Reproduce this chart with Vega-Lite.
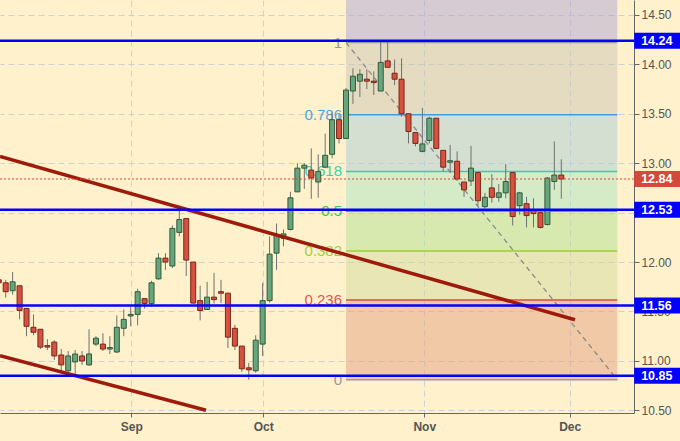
{
  "$schema": "https://vega.github.io/schema/vega-lite/v6.json",
  "width": 634,
  "height": 413,
  "autosize": {"type": "none"},
  "padding": {"left": 0, "top": 0, "right": 46, "bottom": 28},
  "background": "#fef1cc",
  "config": {"view": {"stroke": null}, "font": "Liberation Sans"},
  "resolve": {"scale": {"color": "independent", "fill": "independent", "stroke": "independent"}},
  "datasets": {
    "candles": [
      {"i": 0, "o": 11.82, "h": 11.83, "l": 11.78, "c": 11.79},
      {"i": 1, "o": 11.79, "h": 11.82, "l": 11.64, "c": 11.70},
      {"i": 2, "o": 11.71, "h": 11.90, "l": 11.67, "c": 11.80},
      {"i": 3, "o": 11.76, "h": 11.76, "l": 11.42, "c": 11.51},
      {"i": 4, "o": 11.53, "h": 11.53, "l": 11.25, "c": 11.35},
      {"i": 5, "o": 11.34, "h": 11.47, "l": 11.26, "c": 11.29},
      {"i": 6, "o": 11.32, "h": 11.32, "l": 11.12, "c": 11.14},
      {"i": 7, "o": 11.155, "h": 11.22, "l": 11.11, "c": 11.14},
      {"i": 8, "o": 11.19, "h": 11.21, "l": 11.01, "c": 11.05},
      {"i": 9, "o": 11.06, "h": 11.12, "l": 10.90, "c": 10.96},
      {"i": 10, "o": 10.90, "h": 11.10, "l": 10.88, "c": 11.05},
      {"i": 11, "o": 10.99, "h": 11.11, "l": 10.86, "c": 11.07},
      {"i": 12, "o": 11.05, "h": 11.10, "l": 10.96, "c": 11.00},
      {"i": 13, "o": 10.96, "h": 11.32, "l": 10.95, "c": 11.07},
      {"i": 14, "o": 11.17, "h": 11.25, "l": 11.15, "c": 11.23},
      {"i": 15, "o": 11.17, "h": 11.28, "l": 11.10, "c": 11.12},
      {"i": 16, "o": 11.12, "h": 11.25, "l": 11.07, "c": 11.135},
      {"i": 17, "o": 11.09, "h": 11.46, "l": 11.08, "c": 11.34},
      {"i": 18, "o": 11.33, "h": 11.52, "l": 11.25, "c": 11.42},
      {"i": 19, "o": 11.455, "h": 11.55, "l": 11.35, "c": 11.47},
      {"i": 20, "o": 11.47, "h": 11.73, "l": 11.36, "c": 11.70},
      {"i": 21, "o": 11.63, "h": 11.63, "l": 11.53, "c": 11.58},
      {"i": 22, "o": 11.58, "h": 11.81, "l": 11.55, "c": 11.79},
      {"i": 23, "o": 11.83, "h": 12.09, "l": 11.82, "c": 12.04},
      {"i": 24, "o": 12.04, "h": 12.09, "l": 11.92, "c": 12.00},
      {"i": 25, "o": 11.96, "h": 12.37, "l": 11.94, "c": 12.34},
      {"i": 26, "o": 12.30, "h": 12.54, "l": 12.26, "c": 12.43},
      {"i": 27, "o": 12.44, "h": 12.44, "l": 11.86, "c": 12.02},
      {"i": 28, "o": 12.00, "h": 12.00, "l": 11.58, "c": 11.585},
      {"i": 29, "o": 11.61, "h": 11.76, "l": 11.41, "c": 11.51},
      {"i": 30, "o": 11.52, "h": 11.80, "l": 11.52, "c": 11.645},
      {"i": 31, "o": 11.645, "h": 11.89, "l": 11.58, "c": 11.62},
      {"i": 32, "o": 11.70, "h": 11.82, "l": 11.585, "c": 11.685},
      {"i": 33, "o": 11.685, "h": 11.685, "l": 11.13, "c": 11.24},
      {"i": 34, "o": 11.33, "h": 11.365, "l": 11.11, "c": 11.15},
      {"i": 35, "o": 11.15, "h": 11.15, "l": 10.89, "c": 10.92},
      {"i": 36, "o": 10.93, "h": 10.98, "l": 10.81, "c": 10.91},
      {"i": 37, "o": 10.90, "h": 11.26, "l": 10.88, "c": 11.21},
      {"i": 38, "o": 11.17, "h": 11.79, "l": 11.05, "c": 11.61},
      {"i": 39, "o": 11.61, "h": 12.26, "l": 11.59, "c": 12.08},
      {"i": 40, "o": 12.09, "h": 12.39, "l": 11.92, "c": 12.275},
      {"i": 41, "o": 12.24, "h": 12.33, "l": 12.16, "c": 12.285},
      {"i": 42, "o": 12.33, "h": 12.71, "l": 12.32, "c": 12.65},
      {"i": 43, "o": 12.71, "h": 13.00, "l": 12.71, "c": 12.95},
      {"i": 44, "o": 12.95, "h": 13.00, "l": 12.74, "c": 12.98},
      {"i": 45, "o": 12.93, "h": 13.15, "l": 12.64, "c": 12.85},
      {"i": 46, "o": 12.81, "h": 13.09, "l": 12.65, "c": 12.915},
      {"i": 47, "o": 12.96, "h": 13.30, "l": 12.95, "c": 13.08},
      {"i": 48, "o": 13.09, "h": 13.51, "l": 13.05, "c": 13.44},
      {"i": 49, "o": 13.44, "h": 13.49, "l": 13.20, "c": 13.25},
      {"i": 50, "o": 13.25, "h": 13.76, "l": 13.25, "c": 13.74},
      {"i": 51, "o": 13.73, "h": 13.96, "l": 13.60, "c": 13.88},
      {"i": 52, "o": 13.83, "h": 13.95, "l": 13.67, "c": 13.90},
      {"i": 53, "o": 13.85, "h": 13.95, "l": 13.75, "c": 13.83},
      {"i": 54, "o": 13.83, "h": 13.93, "l": 13.69, "c": 13.815},
      {"i": 55, "o": 13.73, "h": 14.23, "l": 13.73, "c": 14.02},
      {"i": 56, "o": 14.035, "h": 14.23, "l": 13.97, "c": 13.97},
      {"i": 57, "o": 13.91, "h": 14.05, "l": 13.79, "c": 13.85},
      {"i": 58, "o": 13.85, "h": 14.06, "l": 13.47, "c": 13.50},
      {"i": 59, "o": 13.50, "h": 13.50, "l": 13.20, "c": 13.32},
      {"i": 60, "o": 13.31, "h": 13.31, "l": 13.17, "c": 13.20},
      {"i": 61, "o": 13.12, "h": 13.56, "l": 13.11, "c": 13.195},
      {"i": 62, "o": 13.23, "h": 13.47, "l": 13.20, "c": 13.455},
      {"i": 63, "o": 13.455, "h": 13.455, "l": 13.14, "c": 13.15},
      {"i": 64, "o": 13.13, "h": 13.13, "l": 12.915, "c": 12.96},
      {"i": 65, "o": 13.01, "h": 13.185, "l": 12.905, "c": 13.025},
      {"i": 66, "o": 13.02, "h": 13.12, "l": 12.82, "c": 12.84},
      {"i": 67, "o": 12.81, "h": 12.81, "l": 12.66, "c": 12.73},
      {"i": 68, "o": 12.82, "h": 13.175, "l": 12.77, "c": 12.95},
      {"i": 69, "o": 12.905, "h": 12.905, "l": 12.57, "c": 12.62},
      {"i": 70, "o": 12.56, "h": 12.70, "l": 12.545, "c": 12.655},
      {"i": 71, "o": 12.75, "h": 12.89, "l": 12.60, "c": 12.655},
      {"i": 72, "o": 12.655, "h": 12.79, "l": 12.61, "c": 12.70},
      {"i": 73, "o": 12.70, "h": 12.99, "l": 12.645, "c": 12.815},
      {"i": 74, "o": 12.905, "h": 12.905, "l": 12.37, "c": 12.46},
      {"i": 75, "o": 12.57, "h": 12.71, "l": 12.48, "c": 12.70},
      {"i": 76, "o": 12.59, "h": 12.66, "l": 12.35, "c": 12.47},
      {"i": 77, "o": 12.52, "h": 12.645, "l": 12.35, "c": 12.49},
      {"i": 78, "o": 12.50, "h": 12.50, "l": 12.34, "c": 12.35},
      {"i": 79, "o": 12.38, "h": 12.86, "l": 12.37, "c": 12.85},
      {"i": 80, "o": 12.815, "h": 13.22, "l": 12.73, "c": 12.88},
      {"i": 81, "o": 12.88, "h": 13.04, "l": 12.64, "c": 12.84}
    ],
    "fibBands": [
      {"band": "above 1", "start": 50, "end": 89.06, "lo": 14.22, "hi": 14.8},
      {"band": "0.786-1", "start": 50, "end": 89.06, "lo": 13.49, "hi": 14.22},
      {"band": "0.618-0.786", "start": 50, "end": 89.06, "lo": 12.917, "hi": 13.49},
      {"band": "0.5-0.618", "start": 50, "end": 89.06, "lo": 12.515, "hi": 12.917},
      {"band": "0.382-0.5", "start": 50, "end": 89.06, "lo": 12.113, "hi": 12.515},
      {"band": "0.236-0.382", "start": 50, "end": 89.06, "lo": 11.615, "hi": 12.113},
      {"band": "0-0.236", "start": 50, "end": 89.06, "lo": 10.81, "hi": 11.615}
    ],
    "fibLevels": [
      {"level": "1", "p": 14.22, "start": 50, "end": 89.06},
      {"level": "0.786", "p": 13.49, "start": 50, "end": 89.06},
      {"level": "0.618", "p": 12.917, "start": 50, "end": 89.06},
      {"level": "0.5", "p": 12.515, "start": 50, "end": 89.06},
      {"level": "0.382", "p": 12.113, "start": 50, "end": 89.06},
      {"level": "0.236", "p": 11.615, "start": 50, "end": 89.06},
      {"level": "0", "p": 10.81, "start": 50, "end": 89.06}
    ],
    "fibDiag": [
      {"x1": 50, "p1": 14.22, "x2": 89.06, "p2": 10.81}
    ],
    "trendLines": [
      {"x1": 0.18, "p1": 13.069, "x2": 82.97, "p2": 11.416},
      {"x1": 0.18, "p1": 11.052, "x2": 29.84, "p2": 10.501}
    ],
    "levels": [
      {"p": 14.24}, {"p": 12.53}, {"p": 11.56}, {"p": 10.85}
    ],
    "lastPrice": [
      {"p": 12.84}
    ],
    "tags": [
      {"p": 14.24, "kind": "level"},
      {"p": 12.53, "kind": "level"},
      {"p": 11.56, "kind": "level"},
      {"p": 10.85, "kind": "level"},
      {"p": 12.84, "kind": "last"}
    ]
  },
  "layer": [
    {
      "data": {"name": "fibBands"},
      "mark": {"type": "rect", "clip": true, "opacity": 0.5},
      "encoding": {
        "x": {
          "field": "start", "type": "quantitative",
          "scale": {"domain": [0.18, 91.47], "nice": false, "zero": false, "padding": 0},
          "axis": {
            "orient": "bottom", "title": null,
            "values": [19.085, 38.09, 61.27, 82.21],
            "labelExpr": "datum.value < 20 ? 'Sep' : datum.value < 40 ? 'Oct' : datum.value < 70 ? 'Nov' : 'Dec'",
            "grid": true, "gridColor": "#cdd1d4", "gridDash": [6, 4],
            "domainColor": "#666666", "tickColor": "#666666", "tickSize": 4,
            "labelColor": "#555555", "labelFontSize": 12, "labelFontWeight": "bold", "labelPadding": 4
          }
        },
        "x2": {"field": "end"},
        "y": {
          "field": "hi", "type": "quantitative",
          "scale": {"domain": [10.473, 14.651], "nice": false, "zero": false, "padding": 0},
          "axis": {
            "orient": "right", "title": null,
            "values": [10.5, 11, 11.5, 12, 12.5, 13, 13.5, 14, 14.5],
            "format": ".2f",
            "labelExpr": "datum.value == 12.5 ? '' : datum.label",
            "grid": true, "gridColor": "#cdd1d4", "gridDash": [6, 4],
            "domainColor": "#666666", "tickColor": "#666666", "tickSize": 5,
            "labelColor": "#555555", "labelFontSize": 12, "labelPadding": 2
          }
        },
        "y2": {"field": "lo"},
        "fill": {
          "field": "band", "type": "nominal", "legend": null,
          "scale": {
            "domain": ["above 1", "0.786-1", "0.618-0.786", "0.5-0.618", "0.382-0.5", "0.236-0.382", "0-0.236"],
            "range": ["#aca5d4", "#cac5b4", "#aacdd8", "#ace5c4", "#b2e194", "#d2db9c", "#e6a182"]
          }
        }
      }
    },
    {
      "data": {"name": "fibLevels"},
      "mark": {"type": "rule", "strokeWidth": 1.5},
      "encoding": {
        "x": {"field": "start", "type": "quantitative"},
        "x2": {"field": "end"},
        "y": {"field": "p", "type": "quantitative"},
        "stroke": {
          "field": "level", "type": "nominal", "legend": null,
          "scale": {
            "domain": ["1", "0.786", "0.618", "0.5", "0.382", "0.236", "0"],
            "range": ["#9a9a9a", "#3d9de0", "#33d2a5", "#3cc83c", "#9ccc35", "#e04a3c", "#9a9a9a"]
          }
        }
      }
    },
    {
      "data": {"name": "fibLevels"},
      "mark": {"type": "text", "align": "right", "baseline": "middle", "dx": -4, "fontSize": 15, "font": "Liberation Sans"},
      "encoding": {
        "x": {"field": "start", "type": "quantitative"},
        "y": {"field": "p", "type": "quantitative"},
        "text": {"field": "level"},
        "color": {
          "field": "level", "type": "nominal", "legend": null,
          "scale": {
            "domain": ["1", "0.786", "0.618", "0.5", "0.382", "0.236", "0"],
            "range": ["#999999", "#4aa6e0", "#38d3a8", "#36cc36", "#a3cf3f", "#e65454", "#999999"]
          }
        }
      }
    },
    {
      "data": {"name": "fibDiag"},
      "mark": {"type": "rule", "color": "#8a8a8a", "strokeWidth": 1.3, "strokeDash": [5, 4]},
      "encoding": {
        "x": {"field": "x1", "type": "quantitative"},
        "x2": {"field": "x2"},
        "y": {"field": "p1", "type": "quantitative"},
        "y2": {"field": "p2"}
      }
    },
    {
      "data": {"name": "candles"},
      "mark": {"type": "rule", "color": "#707070", "strokeWidth": 1, "clip": true},
      "encoding": {
        "x": {"field": "i", "type": "quantitative"},
        "y": {"field": "l", "type": "quantitative"},
        "y2": {"field": "h"}
      }
    },
    {
      "data": {"name": "candles"},
      "mark": {"type": "bar", "width": 5, "strokeWidth": 1, "clip": true},
      "encoding": {
        "x": {"field": "i", "type": "quantitative"},
        "y": {"field": "o", "type": "quantitative"},
        "y2": {"field": "c"},
        "fill": {"condition": {"test": "datum.c >= datum.o", "value": "#69a57c"}, "value": "#d6513f"},
        "stroke": {"condition": {"test": "datum.c >= datum.o", "value": "#2f5b3c"}, "value": "#7a2619"}
      }
    },
    {
      "data": {"name": "trendLines"},
      "mark": {"type": "rule", "color": "#9e1a0a", "strokeWidth": 3.5, "clip": true},
      "encoding": {
        "x": {"field": "x1", "type": "quantitative"},
        "x2": {"field": "x2"},
        "y": {"field": "p1", "type": "quantitative"},
        "y2": {"field": "p2"}
      }
    },
    {
      "data": {"name": "lastPrice"},
      "mark": {"type": "rule", "color": "#e2483a", "strokeWidth": 1, "strokeDash": [2, 2]},
      "encoding": {
        "y": {"field": "p", "type": "quantitative"}
      }
    },
    {
      "data": {"name": "levels"},
      "mark": {"type": "rule", "color": "#0000ff", "strokeWidth": 2.5},
      "encoding": {
        "y": {"field": "p", "type": "quantitative"}
      }
    },
    {
      "data": {"name": "tags"},
      "mark": {"type": "bar", "orient": "horizontal", "height": 16, "clip": false},
      "encoding": {
        "x": {"datum": 91.5, "type": "quantitative"},
        "x2": {"datum": 98.5},
        "y": {"field": "p", "type": "quantitative"},
        "fill": {
          "field": "kind", "type": "nominal", "legend": null,
          "scale": {"domain": ["level", "last"], "range": ["#0000ff", "#d44a3a"]}
        }
      }
    },
    {
      "data": {"name": "tags"},
      "mark": {"type": "text", "align": "left", "baseline": "middle", "color": "white", "fontWeight": "bold", "fontSize": 12.5, "font": "Liberation Sans"},
      "encoding": {
        "x": {"datum": 92.5, "type": "quantitative"},
        "y": {"field": "p", "type": "quantitative"},
        "text": {"field": "p", "type": "quantitative", "format": ".2f"}
      }
    }
  ]
}
